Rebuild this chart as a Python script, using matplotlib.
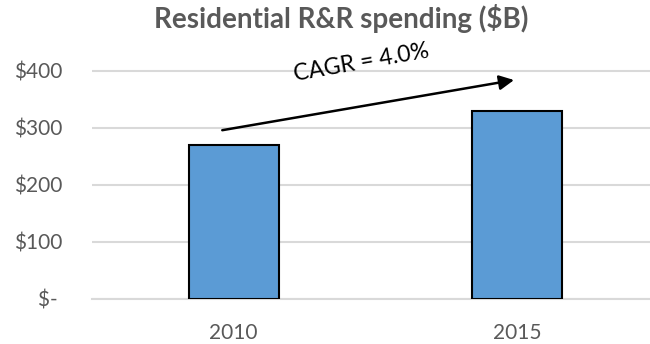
import numpy as np
import matplotlib.pyplot as plt

# data
years = ['2010', '2015']
spending = [270, 330]  # $B
cagr_pct = 4.0
yticks = [0, 100, 200, 300, 400]
ytick_labels = ['$- ', '$100', '$200', '$300', '$400']

plt.rcParams['font.family'] = ['Lato', 'DejaVu Sans']

fig = plt.figure(figsize=(6.5, 3.44), dpi=100)
ax = fig.add_axes([0.1415, 0.131, 0.8585, 0.696])

x = np.arange(len(years))
ax.bar(x, spending, width=0.318, color='#5B9BD5', edgecolor='black',
       linewidth=1.5, zorder=3)

ax.set_xlim(-0.5, 1.47)
ax.set_ylim(0, 420)
ax.set_yticks(yticks)
ax.set_yticklabels(ytick_labels)
ax.set_xticks(x)
ax.set_xticklabels(years)
ax.yaxis.grid(True, color='#D9D9D9', linewidth=1.5, zorder=0)
ax.set_axisbelow(True)

for s in ['top', 'right', 'left']:
    ax.spines[s].set_visible(False)
ax.spines['bottom'].set_color('#D9D9D9')
ax.spines['bottom'].set_linewidth(1.5)
ax.tick_params(axis='y', length=0, pad=21, labelsize=15, labelcolor='#595959')
ax.tick_params(axis='x', length=0, pad=17, labelsize=15, labelcolor='#595959')

# CAGR arrow
ax.annotate('', xy=(0.99, spending[1] + 54), xytext=(-0.04, spending[0] + 26),
            arrowprops=dict(arrowstyle='-|>', color='black', lw=1.8,
                            mutation_scale=22, shrinkA=0, shrinkB=0),
            annotation_clip=False, zorder=5)
ax.text(0.45, 414, 'CAGR = {:.1f}%'.format(cagr_pct), rotation=10,
        ha='center', va='center', fontsize=16.5, color='black')

fig.text(0.525, 0.945, 'Residential R&R spending ($B)', ha='center', va='center',
         fontsize=20, fontweight='bold', color='#595959')

fig.savefig('out.png', dpi=100)
